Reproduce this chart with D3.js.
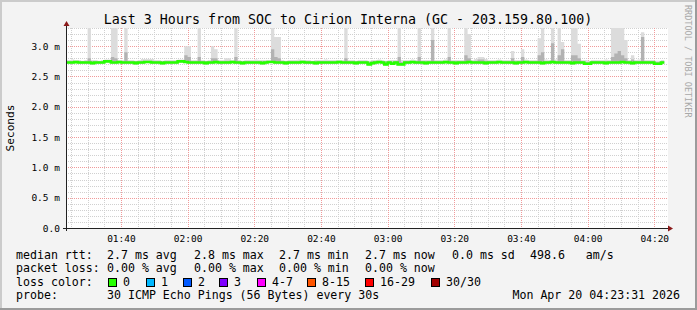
<!DOCTYPE html>
<html>
<head>
<meta charset="utf-8">
<script src="https://cdn.jsdelivr.net/npm/d3@7/dist/d3.min.js"></script>
<style>
  body { margin: 0; background: #f3f3f3; }
  svg { display: block; }
  text { font-family: "DejaVu Sans Mono", monospace; fill: #000; }
</style>
</head>
<body>
<div id="chart"></div>
<script>
// chart data, one sample per minute starting 01:23
var title = 'Last 3 Hours from SOC to Cirion Interna (GC - 203.159.80.100)';
var yTicks = [0, 0.5, 1.0, 1.5, 2.0, 2.5, 3.0];
var yDomain = [0, 3.3];

var median = [
  2.73,2.73,2.73,2.74,2.73,2.73,2.73,2.73,2.72,2.73,2.73,2.73,2.75,2.75,2.73,2.73,2.74,2.73,2.73,2.73,
  2.73,2.72,2.73,2.73,2.74,2.74,2.73,2.73,2.73,2.72,2.73,2.73,2.73,2.73,2.75,2.75,2.74,2.73,2.73,2.73,
  2.73,2.73,2.72,2.73,2.73,2.74,2.73,2.73,2.73,2.73,2.74,2.73,2.73,2.72,2.73,2.73,2.73,2.73,2.73,2.72,
  2.73,2.74,2.74,2.73,2.73,2.73,2.72,2.73,2.73,2.73,2.73,2.74,2.73,2.73,2.73,2.72,2.73,2.73,2.73,2.73,
  2.73,2.73,2.74,2.73,2.73,2.73,2.73,2.72,2.73,2.73,2.73,2.70,2.72,2.73,2.74,2.73,2.70,2.73,2.71,2.73,
  2.70,2.70,2.73,2.73,2.74,2.73,2.73,2.73,2.72,2.73,2.73,2.73,2.73,2.73,2.74,2.73,2.73,2.72,2.73,2.73,
  2.73,2.74,2.73,2.73,2.73,2.73,2.72,2.73,2.73,2.73,2.74,2.73,2.73,2.73,2.73,2.72,2.73,2.73,2.74,2.73,
  2.73,2.73,2.73,2.72,2.73,2.73,2.74,2.73,2.73,2.73,2.73,2.73,2.72,2.73,2.73,2.73,2.71,2.71,2.73,2.73,
  2.73,2.73,2.72,2.73,2.73,2.73,2.73,2.74,2.73,2.73,2.72,2.73,2.73,2.73,2.73,2.73,2.73,2.71,2.71,2.73
];
// highest ping of each round (outer smoke)
var maxPing = [
  2.77,2.77,2.78,2.77,2.77,2.76,2.77,3.40,2.77,2.77,2.76,2.77,2.78,2.78,3.40,3.40,2.77,2.77,3.40,2.77,
  2.77,2.76,2.77,2.79,2.79,2.79,2.79,2.77,2.77,2.76,2.77,2.77,2.77,2.77,2.78,2.78,3.00,3.00,2.77,2.77,
  3.40,2.77,2.76,2.77,3.00,2.95,2.77,2.77,2.80,2.80,2.77,3.40,2.77,2.76,2.77,2.77,2.77,2.78,2.77,2.77,
  2.77,2.77,3.40,3.15,3.15,2.77,2.76,2.77,2.77,2.77,2.78,2.77,2.77,2.77,2.76,2.77,2.77,2.77,2.78,2.77,
  2.77,2.77,2.77,2.77,3.40,2.77,2.77,2.76,2.77,2.77,2.77,2.76,2.77,2.77,2.78,2.77,2.76,2.77,2.77,2.77,
  3.40,2.77,2.77,2.77,2.78,2.77,3.40,2.77,2.77,2.77,3.40,2.77,2.77,2.77,2.78,3.40,2.77,2.77,2.77,2.77,
  3.40,3.20,2.77,2.79,2.82,2.82,2.79,2.77,2.77,2.77,2.78,2.77,2.77,2.77,2.92,2.77,2.77,2.95,2.78,2.77,
  2.77,2.77,3.13,3.40,2.78,2.77,3.40,2.78,3.40,3.07,2.77,2.77,3.40,3.40,3.04,2.77,2.77,2.76,2.77,2.77,
  2.77,2.77,2.78,2.77,3.40,3.40,3.40,3.40,3.10,2.77,2.85,2.77,2.78,3.23,2.77,2.77,2.77,2.76,2.76,2.77
];
// upper quartile (dense smoke)
var upperQ = [
  2.75,2.75,2.75,2.75,2.75,2.75,2.75,2.80,2.75,2.75,2.75,2.75,2.76,2.76,2.82,2.80,2.75,2.75,2.90,2.75,
  2.75,2.75,2.75,2.76,2.76,2.76,2.76,2.75,2.75,2.75,2.75,2.75,2.75,2.75,2.76,2.76,2.85,2.82,2.75,2.75,
  2.82,2.75,2.75,2.75,2.80,2.80,2.75,2.75,2.76,2.76,2.75,2.82,2.75,2.75,2.75,2.75,2.75,2.75,2.75,2.75,
  2.75,2.75,2.95,2.82,2.80,2.75,2.75,2.75,2.75,2.75,2.75,2.75,2.75,2.75,2.75,2.75,2.75,2.75,2.75,2.75,
  2.75,2.75,2.75,2.75,2.80,2.75,2.75,2.75,2.75,2.75,2.75,2.74,2.75,2.75,2.75,2.75,2.74,2.75,2.74,2.75,
  2.82,2.74,2.75,2.75,2.75,2.75,2.82,2.75,2.75,2.75,3.10,2.75,2.75,2.75,2.75,2.82,2.75,2.75,2.75,2.75,
  2.85,2.80,2.75,2.76,2.78,2.78,2.76,2.75,2.75,2.75,2.75,2.75,2.75,2.75,2.80,2.75,2.75,2.82,2.75,2.75,
  2.75,2.75,2.85,2.90,2.75,2.75,3.05,2.75,2.85,2.95,2.75,2.75,2.85,2.85,2.80,2.75,2.74,2.74,2.75,2.75,
  2.75,2.75,2.75,2.75,2.82,2.88,2.92,2.85,2.80,2.75,2.78,2.75,2.75,3.15,2.75,2.75,2.75,2.74,2.74,2.75
];

var legendRows = [
  [['median rtt:', 16], ['2.7 ms avg', 107], ['2.8 ms max', 194], ['2.7 ms min', 279], ['2.7 ms now', 365], ['0.0 ms sd', 452], ['498.6   am/s', 530]],
  [['packet loss:', 16], ['0.00 % avg', 107], ['0.00 % max', 194], ['0.00 % min', 279], ['0.00 % now', 365]],
  [['loss color:', 16]],
  [['probe:', 16], ['30 ICMP Echo Pings (56 Bytes) every 30s', 107]]
];
var lossLabels = ['0', '1', '2', '3', '4-7', '8-15', '16-29', '30/30'];
var lossColors = ['#26ff00', '#00b8ff', '#0059ff', '#7e00ff', '#ff00ff', '#ff5500', '#ff0000', '#a10000'];
var lossBoxX = [108, 146, 183, 219, 257, 307, 365, 431];
var stamp = 'Mon Apr 20 04:23:31 2026';

var Chart = (function(){
    var W = 697, H = 310,
        plot = {left: 66, right: 666, top: 28, bottom: 228},
        t0 = new Date(Date.UTC(2026, 3, 20, 1, 23, 31)),
        t1 = new Date(Date.UTC(2026, 3, 20, 4, 23, 31)),
        s0 = Date.UTC(2026, 3, 20, 1, 23, 0);

    var samples = median.map(function(m, i){
        return {t: new Date(s0 + i * 60000), med: m, hi: maxPing[i], q3: upperQ[i]};
    });
    // repeat last sample so the step shape closes on the right
    var last = samples[samples.length - 1];
    samples.push({t: new Date(last.t.getTime() + 60000), med: last.med, hi: last.hi, q3: last.q3});

    var x = d3.scaleUtc().domain([t0, t1]).range([plot.left, plot.right]);
    var y = d3.scaleLinear().domain(yDomain).range([plot.bottom, plot.top]);

    var svg = d3.select('#chart').append('svg')
        .attr('width', W).attr('height', H);

    // frame
    svg.append('rect').attr('width', W).attr('height', H).attr('fill', '#f3f3f3');
    svg.append('path').attr('d', 'M0,0H697V2H2V310H0Z').attr('fill', '#cbcbcb');
    svg.append('path').attr('d', 'M697,0V310H0V308H695V0Z').attr('fill', '#9b9b9b');

    svg.append('rect')
        .attr('x', plot.left).attr('y', plot.top)
        .attr('width', plot.right - plot.left + 2).attr('height', plot.bottom - plot.top)
        .attr('fill', '#fff');

    svg.append('defs').append('clipPath').attr('id', 'clip')
        .append('rect').attr('x', plot.left).attr('y', plot.top)
        .attr('width', plot.right - plot.left).attr('height', plot.bottom - plot.top);

    var grid = svg.append('g').attr('shape-rendering', 'crispEdges');
    var minorT = x.ticks(d3.utcMinute.every(5)),
        majorT = x.ticks(d3.utcMinute.every(20)),
        minorY = d3.range(1, 34).map(function(d){ return d / 10; }).filter(function(v){ return Math.round(v * 10) % 5; });

    grid.selectAll('.vmin').data(minorT).enter().append('line')
        .attr('x1', function(d){ return Math.round(x(d)) + 0.5; })
        .attr('x2', function(d){ return Math.round(x(d)) + 0.5; })
        .attr('y1', plot.top).attr('y2', plot.bottom)
        .attr('stroke', '#d0d0d0').attr('stroke-dasharray', '1,1');
    grid.selectAll('.hmin').data(minorY).enter().append('line')
        .attr('x1', plot.left).attr('x2', plot.right + 2)
        .attr('y1', function(d){ return Math.round(y(d)) + 0.5; })
        .attr('y2', function(d){ return Math.round(y(d)) + 0.5; })
        .attr('stroke', '#d0d0d0').attr('stroke-dasharray', '1,1');
    grid.selectAll('.vmaj').data(majorT).enter().append('line')
        .attr('x1', function(d){ return Math.round(x(d)) + 0.5; })
        .attr('x2', function(d){ return Math.round(x(d)) + 0.5; })
        .attr('y1', plot.top).attr('y2', plot.bottom)
        .attr('stroke', '#f09a9a').attr('stroke-dasharray', '1,1');
    grid.selectAll('.hmaj').data(yTicks.slice(1)).enter().append('line')
        .attr('x1', plot.left).attr('x2', plot.right + 2)
        .attr('y1', function(d){ return Math.round(y(d)) + 0.5; })
        .attr('y2', function(d){ return Math.round(y(d)) + 0.5; })
        .attr('stroke', '#f09a9a').attr('stroke-dasharray', '1,1');

    // smoke and median
    var data = svg.append('g').attr('clip-path', 'url(#clip)');
    var smoke = function(key){
        return d3.area().curve(d3.curveStepAfter)
            .x(function(d){ return x(d.t); })
            .y0(function(d){ return y(d.med) + 1; })
            .y1(function(d){ return y(d[key]); });
    };
    data.append('path').datum(samples).attr('d', smoke('hi')).attr('fill', '#dcdcdc');
    data.append('path').datum(samples).attr('d', smoke('q3')).attr('fill', '#b2b2b2');
    data.append('path').datum(samples)
        .attr('d', d3.line().curve(d3.curveStepAfter)
            .x(function(d){ return x(d.t); })
            .y(function(d){ return y(d.med); }))
        .attr('fill', 'none').attr('stroke', lossColors[0]).attr('stroke-width', 2.6);

    // axes
    var ax = svg.append('g');
    ax.append('g').attr('transform', 'translate(0,' + plot.bottom + ')')
        .call(d3.axisBottom(x).ticks(d3.utcMinute.every(20)).tickFormat(d3.utcFormat('%H:%M'))
            .tickSize(0).tickPadding(7))
        .call(function(g){ g.select('.domain').remove(); })
        .selectAll('text').attr('font-size', '9.5px').attr('font-family', '"DejaVu Sans Mono", monospace');
    ax.append('g').attr('transform', 'translate(' + plot.left + ',0)')
        .call(d3.axisLeft(y).tickValues(yTicks)
            .tickFormat(function(d){ return d ? d3.format('.1f')(d) + ' m' : '0.0'; })
            .tickSize(0).tickPadding(6))
        .call(function(g){ g.select('.domain').remove(); })
        .selectAll('text').attr('font-size', '9.5px').attr('font-family', '"DejaVu Sans Mono", monospace');

    ax.append('line').attr('x1', 63).attr('x2', 668).attr('y1', plot.bottom + 0.5).attr('y2', plot.bottom + 0.5)
        .attr('stroke', '#222').attr('shape-rendering', 'crispEdges');
    ax.append('line').attr('x1', plot.left + 0.5).attr('x2', plot.left + 0.5).attr('y1', plot.bottom + 3).attr('y2', 24)
        .attr('stroke', '#222').attr('shape-rendering', 'crispEdges');
    ax.append('path').attr('d', 'M668,225.5L673,228.5L668,231.5Z').attr('fill', '#8b1a1a');
    ax.append('path').attr('d', 'M63.5,26L66.5,21L69.5,26Z').attr('fill', '#8b1a1a');

    // texts
    svg.append('text').attr('x', 348).attr('y', 23.8).attr('text-anchor', 'middle')
        .attr('font-size', '13.3px').text(title);
    svg.append('text').attr('transform', 'translate(13.5,128) rotate(-90)').attr('text-anchor', 'middle')
        .attr('font-size', '11.2px').text('Seconds');
    svg.append('text').attr('transform', 'translate(684.5,5) rotate(90)')
        .attr('font-size', '8.5px').style('fill', '#a8a8a8').text('RRDTOOL / TOBI OETIKER');

    var baselines = [258.5, 272, 285.7, 299.3];
    var leg = svg.append('g').attr('font-size', '11.6px');
    legendRows.forEach(function(row, r){
        row.forEach(function(item){
            leg.append('text').attr('x', item[1]).attr('y', baselines[r])
                .attr('xml:space', 'preserve').style('white-space', 'pre').text(item[0]);
        });
    });
    lossLabels.forEach(function(lbl, i){
        leg.append('rect').attr('x', lossBoxX[i] + 0.5).attr('y', 278.5).attr('width', 8).attr('height', 8)
            .attr('fill', lossColors[i]).attr('stroke', '#000');
        leg.append('text').attr('x', lossBoxX[i] + 15).attr('y', baselines[2]).text(lbl);
    });
    leg.append('text').attr('x', 680).attr('y', baselines[3]).attr('text-anchor', 'end').text(stamp);

    return {x: x, y: y};
}());
</script>
</body>
</html>
